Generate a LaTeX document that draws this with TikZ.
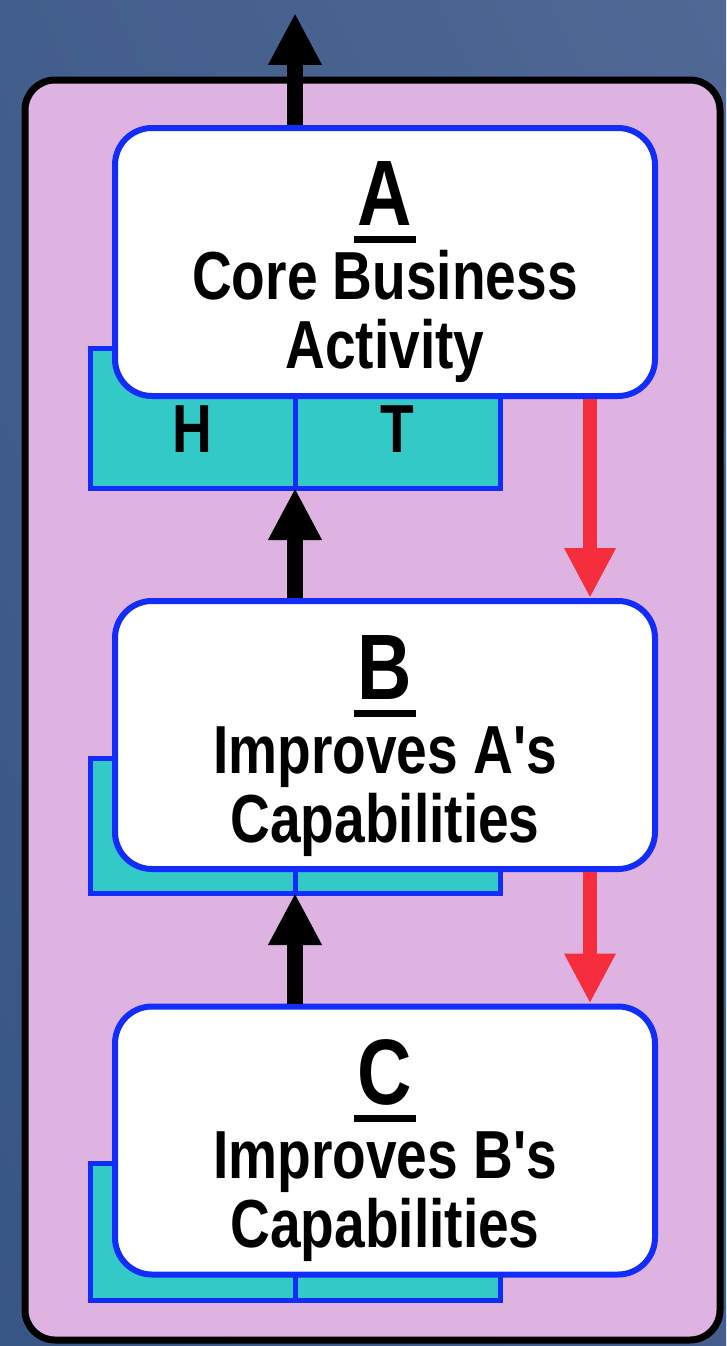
\documentclass[tikz,border=0pt]{standalone}
\usepackage{fontspec}
\setmainfont{Liberation Sans}[FakeStretch=0.81, Ligatures=TeXOff]
\usetikzlibrary{arrows.meta,shadings}

\definecolor{bgdark}{RGB}{56,86,133}
\definecolor{bgmid}{RGB}{66,94,140}
\definecolor{bglight}{RGB}{80,104,148}
\definecolor{panelpink}{RGB}{223,179,225}
\definecolor{tealfill}{RGB}{51,201,199}
\definecolor{boxblue}{RGB}{18,45,250}
\definecolor{arrowred}{RGB}{245,45,60}

% big underlined letter on top of each box
\newcommand\ulletter[1]{{\fontsize{93}{93}\selectfont\setbox0\hbox{#1}%
  \rlap{\kern-4pt\rule[-18pt]{\dimexpr\wd0+8pt\relax}{7pt}}\box0}}

\tikzset{
  panel/.style={draw=black, line width=7pt, fill=panelpink, rounded corners=30pt},
  activity/.style={draw=boxblue, line width=6pt, fill=white, rounded corners=37pt,
    minimum width=540pt, minimum height=268pt, inner sep=0pt},
  half/.style={draw=boxblue, line width=5pt, fill=tealfill, minimum width=205pt,
    inner sep=0pt, outer sep=0pt, font=\bfseries\fontsize{68}{68}\selectfont},
  boxtext/.style={align=center, inner sep=0pt, anchor=north,
    font=\bfseries\fontsize{68}{69}\selectfont},
  uparrow/.style={line width=16pt, -{Triangle[length=52pt,width=50pt]}},
  downarrow/.style={draw=arrowred, line width=14pt, -{Triangle[length=50pt,width=48pt]}},
}

\begin{document}
\begin{tikzpicture}[x=1pt, y=-1pt]
  \useasboundingbox (0,0) rectangle (726,1346);
  \shade[lower left=bgdark, lower right=bgmid, upper left=bgmid, upper right=bglight]
    (0,0) rectangle (726,1346);
  \draw[panel] (25,80) rectangle (720,1340);

  % Manual node positions
  \node[half, text height=104pt, text depth=36pt, anchor=base] (H) at (192.5,452) {H};
  \node[half, text height=104pt, text depth=36pt, anchor=base] (T) at (397.5,452) {T};
  \node[half, minimum height=135pt] (Bl) at (192.5,825.5) {};
  \node[half, minimum height=135pt] (Br) at (397.5,825.5) {};
  \node[half, minimum height=137pt] (Cl) at (192.5,1231.5) {};
  \node[half, minimum height=137pt] (Cr) at (397.5,1231.5) {};

  \node[activity] (A) at (385,262) {};
  \node[activity] (B) at (385,735) {};
  \node[activity] (C) at (385,1140.5) {};

  \node[boxtext] (Atxt) at (385,161) {\ulletter{A}\\[5pt] Core Business\\ Activity};
  \node[boxtext] (Btxt) at (385,635) {\ulletter{B}\\[5pt] Improves A's\\ Capabilities};
  \node[boxtext] (Ctxt) at (385,1039) {\ulletter{C}\\[5pt] Improves B's\\ Capabilities};

  \coordinate (exit) at (295,13);

  % Connections
  \draw[uparrow] (exit |- A.north) -- (exit);
  \draw[uparrow] (H.south east |- B.north) -- (H.south east);
  \draw[uparrow] (Bl.south east |- C.north) -- (Bl.south east);
  \draw[downarrow] ([xshift=205pt]A.south) -- ([xshift=205pt]B.north);
  \draw[downarrow] ([xshift=205pt]B.south) -- ([xshift=205pt]C.north);
\end{tikzpicture}
\end{document}
